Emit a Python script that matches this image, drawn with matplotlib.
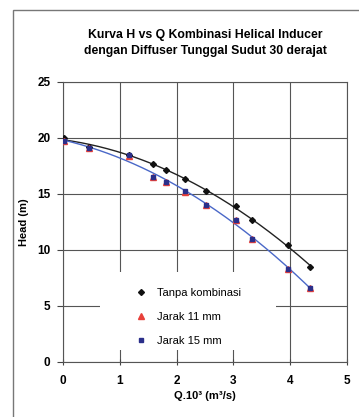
import numpy as np
import matplotlib
matplotlib.use("Agg")
import matplotlib.pyplot as plt
from matplotlib.patches import Rectangle

# ---- data ----
Q = [0.02, 0.46, 1.17, 1.58, 1.82, 2.15, 2.52, 3.05, 3.32, 3.97, 4.35]
H_tanpa = [20.0, 19.2, 18.5, 17.7, 17.1, 16.3, 15.3, 13.9, 12.7, 10.45, 8.45]
H_jarak11 = [19.7, 19.1, 18.4, 16.5, 16.1, 15.2, 14.0, 12.7, 11.0, 8.3, 6.65]
H_jarak15 = [19.75, 19.1, 18.45, 16.55, 16.1, 15.25, 14.0, 12.7, 11.0, 8.3, 6.65]
labels = ["Tanpa kombinasi", "Jarak 11 mm", "Jarak 15 mm"]
title = "Kurva H vs Q Kombinasi Helical Inducer\ndengan Diffuser Tunggal Sudut 30 derajat"
xlabel = "Q.10³ (m³/s)"
ylabel = "Head (m)"
xticks = [0, 1, 2, 3, 4, 5]
yticks = [0, 5, 10, 15, 20, 25]

plt.rcParams['font.family'] = ['Liberation Sans', 'DejaVu Sans']

fig = plt.figure(figsize=(3.59, 4.17), dpi=100)
fig.patch.set_facecolor('white')
ax = fig.add_axes([63/359, 1-362/417, 284/359, 280/417])

# figure frame (left/top visible)
fig.patches.append(Rectangle((13/359, -0.2), 1.2, 1.2 - 10/417, transform=fig.transFigure,
                             fill=False, edgecolor='#777777', lw=1.0, zorder=0))

Qa = np.array(Q)
xs = np.linspace(Qa.min(), Qa.max(), 200)
c0 = np.polyfit(Qa, H_tanpa, 2)
c2 = np.polyfit(Qa, H_jarak15, 2)
ax.plot(xs, np.polyval(c0, xs), color='#222222', lw=1.0, zorder=3)
ax.plot(xs, np.polyval(c2, xs), color='#4a68c8', lw=1.0, zorder=3)

ax.plot(Q, H_tanpa, linestyle='none', marker='D', ms=3, color='#111111', label=labels[0], zorder=4)
ax.plot(Q, H_jarak11, linestyle='none', marker='^', ms=4, color='#e8403a', label=labels[1], zorder=4)
ax.plot(Q, H_jarak15, linestyle='none', marker='s', ms=3, color='#2b2f8a', label=labels[2], zorder=5)

ax.set_xlim(0, 5)
ax.set_ylim(0, 25)
ax.set_xticks(xticks)
ax.set_yticks(yticks)
ax.set_xticklabels([str(t) for t in xticks], fontsize=8.5, fontweight='bold')
ax.set_yticklabels([str(t) for t in yticks], fontsize=8.5, fontweight='bold')
ax.tick_params(axis='x', direction='inout', length=5, width=0.8, color='#444444', pad=7)
ax.tick_params(axis='y', direction='out', length=4, width=0.8, color='#444444', pad=5)
ax.grid(True, color='#555555', lw=0.8, zorder=0)
ax.set_axisbelow(True)
for s in ax.spines.values():
    s.set_color('#555555')
    s.set_linewidth(0.8)

ax.set_title(title, fontsize=8.8, fontweight='bold', pad=20, linespacing=1.5)
ax.set_xlabel(xlabel, fontsize=8, fontweight='bold', labelpad=3)
ax.set_ylabel(ylabel, fontsize=8, fontweight='bold', labelpad=6)

# white background block behind legend
ax.add_patch(Rectangle((0.13, 0.043), 0.62, 0.277, transform=ax.transAxes,
                       facecolor='white', edgecolor='none', zorder=1))
leg = ax.legend(loc='center', bbox_to_anchor=(0.44, 0.16), frameon=False, fontsize=8,
                labelspacing=1.25, handletextpad=0.9, borderpad=0.5, handlelength=1.0)
leg.set_zorder(6)

fig.savefig("out.png", dpi=100)
